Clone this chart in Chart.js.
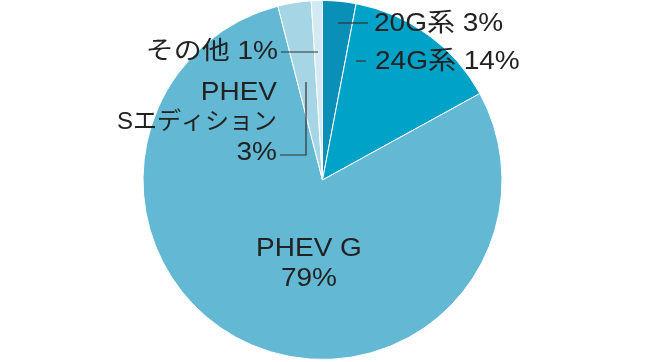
<!DOCTYPE html>
<html>
<head>
<meta charset="utf-8">
<script src="https://cdn.jsdelivr.net/npm/chart.js@4"></script>
<style>
  html, body { margin: 0; padding: 0; background: #fff; }
</style>
</head>
<body>
<canvas id="myChart" width="645" height="362"></canvas>
<script>
// DATA
const labels = ["20G系", "24G系", "PHEV G", "PHEV Sエディション", "その他"];
const shares = [3, 14, 79, 3, 1];
const colors = ["#0a8fb6", "#00a2c7", "#63b9d4", "#a6d5e5", "#d3eaf3"];

const FONT = '25px "Liberation Sans", Arial, "Noto Sans CJK JP", sans-serif';
const KANA_FONT = '24px "Liberation Sans", Arial, "Noto Sans CJK JP", sans-serif';
const STRETCH = 1.12; // source font is wider than Liberation Sans

// label drawing (positions only, text comes from arrays)
const labelPlugin = {
  id: "pieLabels",
  afterDatasetsDraw(chart) {
    const ctx = chart.ctx;
    ctx.save();
    ctx.fillStyle = "#222";
    ctx.strokeStyle = "#333";
    ctx.lineWidth = 1.2;
    ctx.textBaseline = "middle";

    const line = (pts) => {
      ctx.beginPath();
      ctx.moveTo(pts[0][0], pts[0][1]);
      for (let i = 1; i < pts.length; i++) ctx.lineTo(pts[i][0], pts[i][1]);
      ctx.stroke();
    };
    const text = (str, x, y, align, sx = STRETCH, font = FONT) => {
      ctx.save();
      ctx.font = font;
      ctx.textAlign = align;
      ctx.translate(x, y);
      ctx.scale(sx, 1);
      ctx.fillText(str, 0, 0);
      ctx.restore();
    };

    // 20G
    line([[338, 23], [368, 23]]);
    text(labels[0] + " " + shares[0] + "%", 374, 24, "left");
    // 24G
    line([[356, 61], [366, 61]]);
    text(labels[1] + " " + shares[1] + "%", 375, 62, "left");
    // その他
    line([[281, 52], [318, 52]]);
    text(labels[4] + " " + shares[4] + "%", 278, 52, "right");
    // PHEV S
    const parts = labels[3].split(" ");
    text(parts[0], 277, 93, "right");
    text(parts[1], 277, 122, "right", 1, KANA_FONT);
    text(shares[3] + "%", 277, 153, "right");
    line([[280, 155], [306, 155], [306, 82]]);
    // PHEV G
    text(labels[2], 309, 249, "center");
    text(shares[2] + "%", 309, 279, "center");
    ctx.restore();
  },
};

const ctx = document.getElementById("myChart").getContext("2d");
const chart = new Chart(ctx, {
  type: "pie",
  data: {
    labels: labels,
    datasets: [
      {
        data: shares,
        backgroundColor: colors,
        borderColor: "#ffffff",
        borderWidth: 1,
      },
    ],
  },
  options: {
    responsive: false,
    animation: false,
    layout: { padding: { top: 0, bottom: 2, left: 0, right: 0 } },
    plugins: {
      legend: { display: false },
      tooltip: { enabled: false },
    },
  },
  plugins: [labelPlugin],
});
</script>
</body>
</html>
